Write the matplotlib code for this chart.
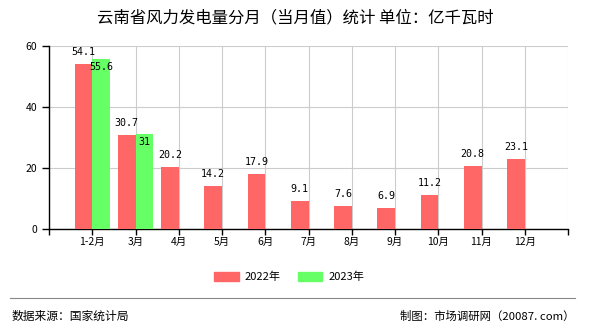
import matplotlib
matplotlib.use("Agg")
import matplotlib.pyplot as plt
from matplotlib.patches import Patch

plt.rcParams['font.family'] = ['Noto Sans CJK SC', 'DejaVu Sans']

# ---- Data ----
months = ["1-2月", "3月", "4月", "5月", "6月", "7月", "8月", "9月", "10月", "11月", "12月"]
values_2022 = [54.1, 30.7, 20.2, 14.2, 17.9, 9.1, 7.6, 6.9, 11.2, 20.8, 23.1]
values_2023 = [55.6, 31]
labels_2022 = ["54.1", "30.7", "20.2", "14.2", "17.9", "9.1", "7.6", "6.9", "11.2", "20.8", "23.1"]
labels_2023 = ["55.6", "31"]

RED = "#FF6666"
GREEN = "#66FF66"

fig = plt.figure(figsize=(5.9, 3.3), dpi=100)
ax = fig.add_axes([49 / 590, 1 - 229 / 330, (568 - 49) / 590, (229 - 46) / 330])

w = 0.41
x22 = [i + 1 - w for i in range(len(values_2022))]   # red bars sit left of the tick
x23 = [i + 1 for i in range(len(values_2023))]       # green bars right of the tick
ax.bar(x22, values_2022, width=w, align="edge", color=RED, zorder=3)
ax.bar(x23, values_2023, width=w, align="edge", color=GREEN, zorder=3)

for x, v, t in zip(x22, values_2022, labels_2022):
    ax.annotate(t, (x + w / 2, v), xytext=(0, 5), textcoords="offset points",
                ha="center", va="bottom", fontsize=7.2, family="DejaVu Sans Mono", zorder=4)
for x, v, t in zip(x23, values_2023, labels_2023):
    ax.annotate(t, (x + w / 2, v), xytext=(0, -2), textcoords="offset points",
                ha="center", va="top", fontsize=7.2, family="DejaVu Sans Mono", zorder=4)

ax.set_xlim(0, 12)
ax.set_ylim(0, 60)
ax.set_xticks(range(0, 13))
ax.set_xticklabels([""] + months + [""], fontsize=7.5)
ax.set_yticks([0, 20, 40, 60])
ax.tick_params(axis="y", labelsize=7.5, length=5, width=1)
ax.tick_params(axis="x", length=4, width=1, pad=2)
ax.grid(True, color="#cccccc", linewidth=0.8, zorder=0)
ax.spines["top"].set_visible(False)
ax.spines["right"].set_visible(False)
ax.spines["left"].set_linewidth(1)
ax.spines["bottom"].set_linewidth(1)

fig.text(0.5, 1 - 18 / 330, "云南省风力发电量分月（当月值）统计 单位：亿千瓦时",
         ha="center", va="center", fontsize=11.8)

handles = [Patch(color=RED, label="2022年"), Patch(color=GREEN, label="2023年")]
fig.legend(handles=handles, loc="center", bbox_to_anchor=(0.49, 1 - 277 / 330), ncol=2,
           frameon=False, fontsize=8, handlelength=2.2, handleheight=0.9,
           columnspacing=1.6, handletextpad=0.5)

# footer
fig.add_artist(plt.Line2D([10 / 590, 575 / 590], [1 - 298 / 330, 1 - 298 / 330],
                          color="#888888", linewidth=0.8))
fig.text(12 / 590, 1 - 316 / 330, "数据来源：国家统计局", ha="left", va="center", fontsize=8.5)
fig.text(574 / 590, 1 - 316 / 330, "制图：市场调研网（20087. com）", ha="right", va="center", fontsize=8.2)

fig.savefig("out.png", dpi=100)
